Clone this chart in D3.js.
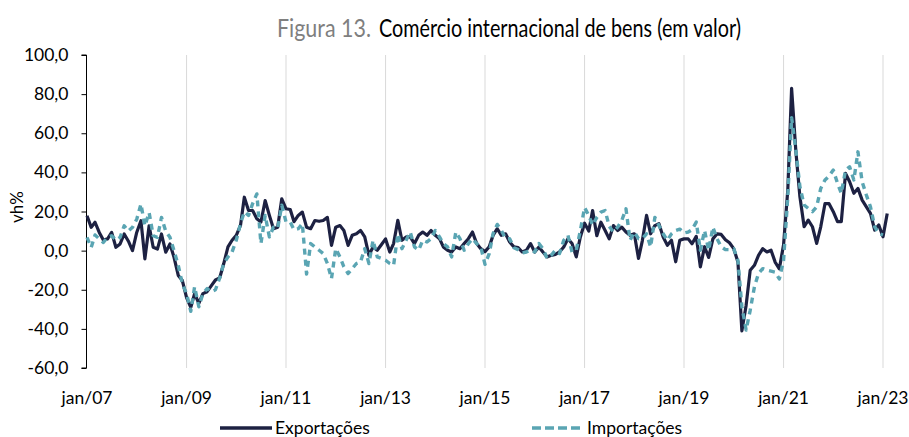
<!DOCTYPE html>
<html>
<head>
<meta charset="utf-8">
<script src="https://cdn.jsdelivr.net/npm/d3@7"></script>
<style>
  body { margin: 0; background: #fff; }
  text { font-family: Lato, "Liberation Sans", sans-serif; }
</style>
</head>
<body>
<svg id="chart"></svg>
<script>
// monthly series, jan/07 .. feb/23 (vh%)
const meses = d3.timeMonth.range(new Date(2007, 0, 1), new Date(2023, 2, 1));

const exportacoes = [
  17.8, 11.9, 14.5, 9.3, 5.4, 6, 9.3, 1.7, 3.4, 8.5, 4.8, 0,
  9.3, 15.3, -4.2, 12.7, 1.7, 0.8, 8.5, -0.8, 3.4, -3.4, -12.7, -15.3,
  -24, -29, -22, -27, -22, -21, -18, -15, -14, -6.6, 1.9, 5.3,
  7.8, 12.9, 27.3, 20.5, 20.5, 16.3, 14.6, 25.6, 18, 11.2, 12, 26.5,
  21.4, 21, 14.8, 18, 19.7, 12, 11.2, 15.4, 15, 15.4, 17, 2.7,
  12, 12.8, 10.3, 2.7, 7.8, 8.6, 10.3, 7, -2.4, 1.9, 0.2, 3,
  6, -0.7, 3.6, 15.5, 5.3, 7, 7, 3.6, 7.8, 9.5, 7.8, 10.3,
  7.8, 6.1, 1.9, 0.2, -0.7, 1.9, 1, 3.6, 6.1, 9.5, 3.6, 1,
  -0.5, 2, 7.8, 11.2, 7.8, 8.6, 4.4, 1.9, 1.5, -0.7, 0.2, 3.6,
  -0.7, 1.9, -0.7, -3.2, -2.4, -1.9, -0.7, 1.9, 6.1, 3.6, -3.2, 7,
  14, 10, 20.5, 7.6, 14.5, 10.3, 6, 12.8, 10.3, 12, 9.5, 7.8,
  8.6, -4, 5, 18, 8.6, 12.8, 13.8, 7, 2.7, 5.3, -5.7, 5.3,
  6, 6, 3.5, 7.3, -8.3, 2, -3.5, 6, 8.6, 8.3, 5.6, 4,
  1, -5.8, -41, -28, -10, -7.5, -2.4, 1, -0.7, 0.2, -6, -9.3,
  3, 31, 83, 51, 27.5, 12.2, 15.6, 12.2, 3.7, 12.2, 24, 24,
  19.9, 14.8, 14.8, 39.5, 35.2, 29.3, 31.8, 25.8, 22.4, 19, 10.5, 13.1,
  7.1, 19
];

const importacoes = [
  6.8, 1.7, 8, 6, 4.2, 6.8, 7.6, 5.4, 6.8, 12.7, 10, 11.9,
  16, 23.8, 12.7, 19.5, 7.6, 6.8, 17, 10, 6.8, 0, -7.6, -17,
  -22, -31, -18.5, -28.7, -21.9, -19.4, -21, -20, -14, -6.6, -3.2, -0.7,
  5.3, 13.8, 19.8, 18, 24, 29, 3.6, 18, 7, 12, 11.4, 23.2,
  14.7, 14.6, 10.7, 11.2, 13.8, -12, 3.6, 1.9, 0.2, -1.5, -6.6, -14.3,
  1, -3.2, -8.3, -11.7, -9.2, -6.6, -5.8, 1, -6.6, 5.3, -3.2, -4,
  -4.9, -6.6, -7.5, 8.6, 1, 5.3, 9.5, 1.9, 0.2, 5.3, 4.4, 6.1,
  10.3, 7, 3.6, 1.9, -3.2, 9.5, 6.1, 0.2, 3.6, 6.1, 3.6, 1.9,
  -7, -1.5, 8.6, 13.4, 10.3, 6.1, 6.1, 1.5, 0.5, -1.2, -0.7, 0.2,
  -0.7, 3.6, 1, -4, -2.4, 0.2, -1.5, 5.3, 7.8, -0.7, 0.2, 10.3,
  22, 18, 13, 17, 19.7, 20.5, 12.4, 9.5, 12, 15.4, 21.4, 5.3,
  9.5, 6.1, 6.1, 8.6, 1.9, 17, 12.8, 8.6, 5.3, 8.6, 10.3, 11,
  9, 9.5, 10.7, 14.6, 0.2, 10.3, 0.2, 12, 6, 2, 0.5, 0.5,
  1, -5, -28.7, -40.6, -30.5, -18.5, -11.7, -9.2, -10, -10.5, -11, -14.5,
  -5, 27.5, 68, 51.4, 32.7, 23.3, 21.6, 19.9, 22.4, 31.8, 36.1, 38.1,
  41.2, 34.4, 29.3, 41.2, 42.9, 36.1, 50.5, 35.2, 28.4, 22.4, 12.2, 8.8,
  8
];

const anosTicks = [2007, 2009, 2011, 2013, 2015, 2017, 2019, 2021, 2023];
const yTicks = [-60, -40, -20, 0, 20, 40, 60, 80, 100];

const width = 909, height = 437;
const margin = { top: 55, right: 21, bottom: 69, left: 87 };

const svg = d3.select("#chart")
  .attr("width", width)
  .attr("height", height);

const x = d3.scaleTime()
  .domain([new Date(2007, 0, 1), new Date(2023, 0, 1)])
  .range([margin.left, 883]);

const y = d3.scaleLinear()
  .domain([-60, 100])
  .range([height - margin.bottom, margin.top]);

const pt = d3.formatLocale({ decimal: ",", thousands: ".", grouping: [3], currency: ["", "€"], minus: "-" });
const fmt = pt.format(".1f");

// vertical gridlines
svg.append("g")
  .selectAll("line")
  .data(anosTicks.slice(1))
  .join("line")
  .attr("x1", d => x(new Date(d, 0, 1)))
  .attr("x2", d => x(new Date(d, 0, 1)))
  .attr("y1", y(100))
  .attr("y2", y(-60))
  .attr("stroke", "#d9d9d9")
  .attr("stroke-width", 1);

// y axis
const yAxis = svg.append("g")
  .attr("transform", `translate(${margin.left - 0.5},0)`)
  .call(d3.axisLeft(y).tickValues(yTicks).tickFormat(fmt).tickSize(5).tickPadding(13));
yAxis.select(".domain").attr("stroke", "#000").attr("d", `M-5,${y(100)}H0V${y(-60)}H-5`);
yAxis.selectAll(".tick line").attr("stroke", "#000");
yAxis.selectAll("text")
  .attr("font-family", "Lato, 'Liberation Sans', sans-serif")
  .attr("font-size", 17.5)
  .attr("fill", "#000");

// x labels
svg.append("g")
  .selectAll("text")
  .data(anosTicks)
  .join("text")
  .attr("x", d => x(new Date(d, 0, 1)))
  .attr("y", 404)
  .attr("text-anchor", "middle")
  .attr("font-size", 17.5)
  .attr("fill", "#000")
  .text(d => "jan/" + String(d).slice(2));

// y title
svg.append("text")
  .attr("transform", "translate(23,207) rotate(-90)")
  .attr("text-anchor", "middle")
  .attr("font-size", 17)
  .attr("fill", "#000")
  .text("vh%");

// lines
const serieExp = meses.map((m, i) => ({ date: m, v: exportacoes[i] }));
const serieImp = meses.slice(0, importacoes.length).map((m, i) => ({ date: m, v: importacoes[i] }));

const line = d3.line()
  .x(d => x(d.date))
  .y(d => y(d.v));

svg.append("path")
  .datum(serieExp)
  .attr("d", line)
  .attr("fill", "none")
  .attr("stroke", "#1d2142")
  .attr("stroke-width", 3.2)
  .attr("stroke-linejoin", "round");

svg.append("path")
  .datum(serieImp)
  .attr("d", line)
  .attr("fill", "none")
  .attr("stroke", "#5aa5b3")
  .attr("stroke-width", 3.4)
  .attr("stroke-dasharray", "6,5")
  .attr("stroke-linejoin", "round");

// title, two parts condensed to the reference widths
svg.append("text")
  .attr("x", 277).attr("y", 37)
  .attr("font-size", 25)
  .attr("textLength", 94).attr("lengthAdjust", "spacingAndGlyphs")
  .attr("fill", "#7f7f7f")
  .text("Figura 13.");
svg.append("text")
  .attr("x", 379).attr("y", 37)
  .attr("font-size", 25)
  .attr("textLength", 362).attr("lengthAdjust", "spacingAndGlyphs")
  .attr("fill", "#000")
  .text("Comércio internacional de bens (em valor)");

// legend
const legend = svg.append("g");
legend.append("line")
  .attr("x1", 220).attr("x2", 272).attr("y1", 428).attr("y2", 428)
  .attr("stroke", "#1d2142").attr("stroke-width", 3.5);
legend.append("text")
  .attr("x", 275).attr("y", 434)
  .attr("font-size", 17.5).attr("fill", "#000")
  .text("Exportações");
legend.append("line")
  .attr("x1", 532).attr("x2", 584).attr("y1", 428).attr("y2", 428)
  .attr("stroke", "#5aa5b3").attr("stroke-width", 3.5)
  .attr("stroke-dasharray", "9,4");
legend.append("text")
  .attr("x", 587).attr("y", 434)
  .attr("font-size", 17.5).attr("fill", "#000")
  .text("Importações");
</script>
</body>
</html>
